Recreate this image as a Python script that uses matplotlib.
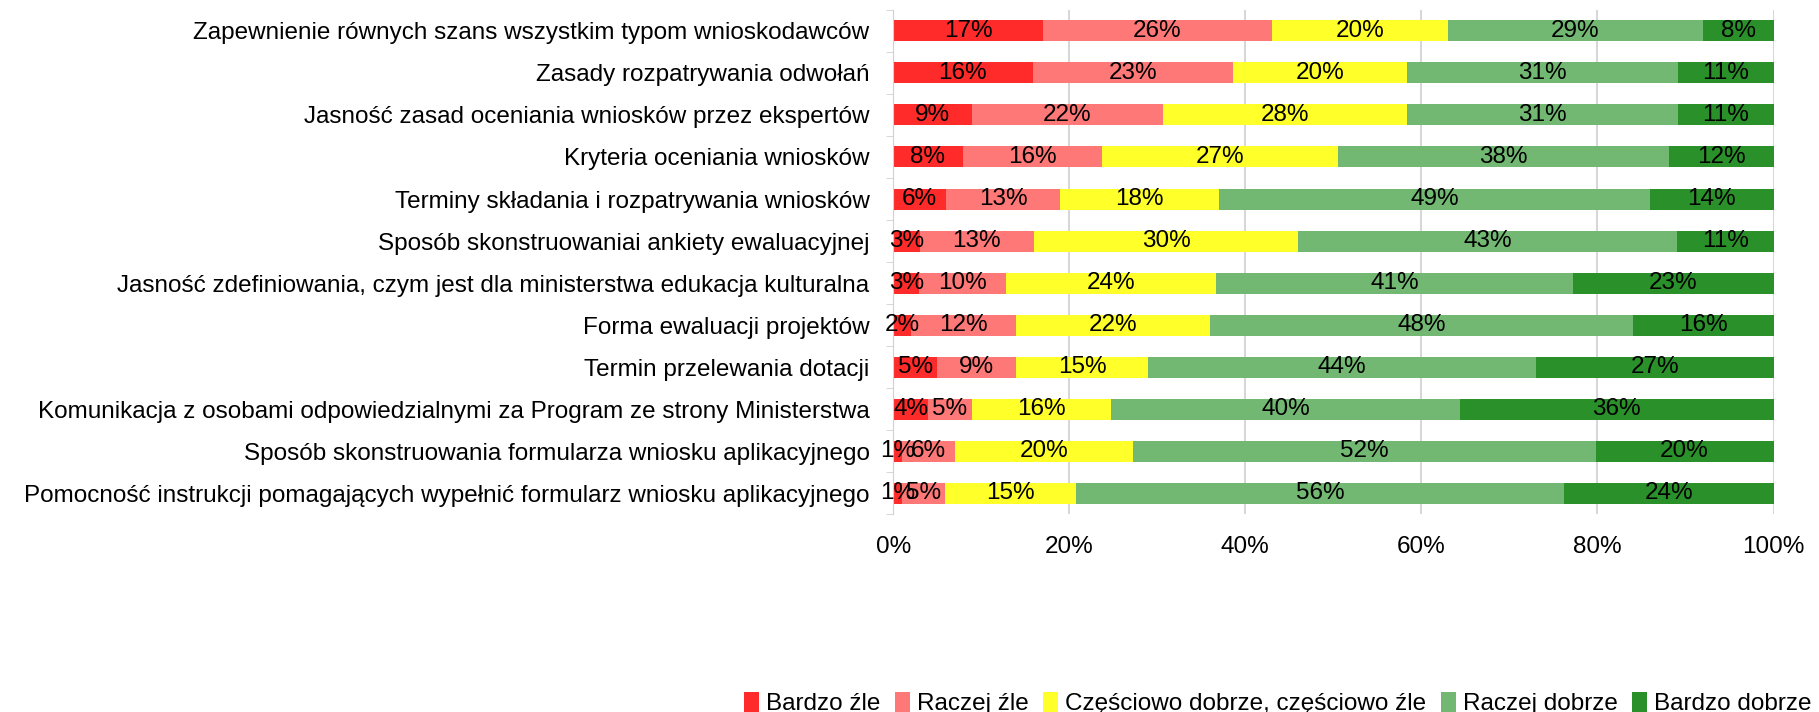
import matplotlib
matplotlib.use('Agg')
import matplotlib.pyplot as plt
import numpy as np

# categories listed top to bottom
categories = [
    'Zapewnienie równych szans wszystkim typom wnioskodawców',
    'Zasady rozpatrywania odwołań',
    'Jasność zasad oceniania wniosków przez ekspertów',
    'Kryteria oceniania wniosków',
    'Terminy składania i rozpatrywania wniosków',
    'Sposób skonstruowaniai ankiety ewaluacyjnej',
    'Jasność zdefiniowania, czym jest dla ministerstwa edukacja kulturalna',
    'Forma ewaluacji projektów',
    'Termin przelewania dotacji',
    'Komunikacja z osobami odpowiedzialnymi za Program ze strony Ministerstwa',
    'Sposób skonstruowania formularza wniosku aplikacyjnego',
    'Pomocność instrukcji pomagających wypełnić formularz wniosku aplikacyjnego',
]
series_names = ['Bardzo źle', 'Raczej źle', 'Częściowo dobrze, częściowo źle',
                'Raczej dobrze', 'Bardzo dobrze']
bardzo_zle = [17, 16, 9, 8, 6, 3, 3, 2, 5, 4, 1, 1]
raczej_zle = [26, 23, 22, 16, 13, 13, 10, 12, 9, 5, 6, 5]
czesciowo = [20, 20, 28, 27, 18, 30, 24, 22, 15, 16, 20, 15]
raczej_dobrze = [29, 31, 31, 38, 49, 43, 41, 48, 44, 40, 52, 56]
bardzo_dobrze = [8, 11, 11, 12, 14, 11, 23, 16, 27, 36, 20, 24]
colors = ['#FF2A2A', '#FF7878', '#FFFF2A', '#72B872', '#2A912A']

plt.rcParams['font.family'] = ['Liberation Sans', 'DejaVu Sans']
fs = 17.5

vals = np.array([bardzo_zle, raczej_zle, czesciowo, raczej_dobrze, bardzo_dobrze], dtype=float)
# 100% stacked bars
shares = vals / vals.sum(axis=0) * 100

fig = plt.figure(figsize=(18.19, 7.12), dpi=100)
ax = fig.add_axes([0.491, 0.278, 0.484, 0.708])

y = np.arange(len(categories))[::-1]
left = np.zeros(len(categories))
for i in range(5):
    ax.barh(y, shares[i], left=left, height=0.5, color=colors[i],
            label=series_names[i], zorder=2)
    for yy, l, w, v in zip(y, left, shares[i], vals[i]):
        ax.text(l + w / 2, yy, '%d%%' % v, ha='center', va='center',
                fontsize=fs, color='black', zorder=3)
    left += shares[i]

ax.set_xlim(0, 100)
ax.set_ylim(-0.5, len(categories) - 0.5)
ax.set_yticks(y)
ax.set_yticklabels(categories, fontsize=fs)
ax.set_yticks(np.arange(len(categories) + 1) - 0.5, minor=True)
ax.tick_params(axis='y', which='major', length=0, pad=17)
ax.tick_params(axis='y', which='minor', length=5, color='#D0D0D0')
ax.set_xticks(np.arange(0, 101, 20))
ax.set_xticklabels(['%d%%' % t for t in range(0, 101, 20)], fontsize=fs)
ax.tick_params(axis='x', length=0, pad=16)
ax.grid(axis='x', color='#D0D0D0', linewidth=1.2, zorder=0)
for s in ['top', 'right', 'bottom']:
    ax.spines[s].set_visible(False)
ax.spines['left'].set_color('#D0D0D0')

fig.legend(loc='lower right', bbox_to_anchor=(1.008, -0.035), ncol=5, frameon=False,
           fontsize=fs, handlelength=0.6, handleheight=0.9, handletextpad=0.3,
           columnspacing=0.6)

fig.savefig('out.png', dpi=100)
